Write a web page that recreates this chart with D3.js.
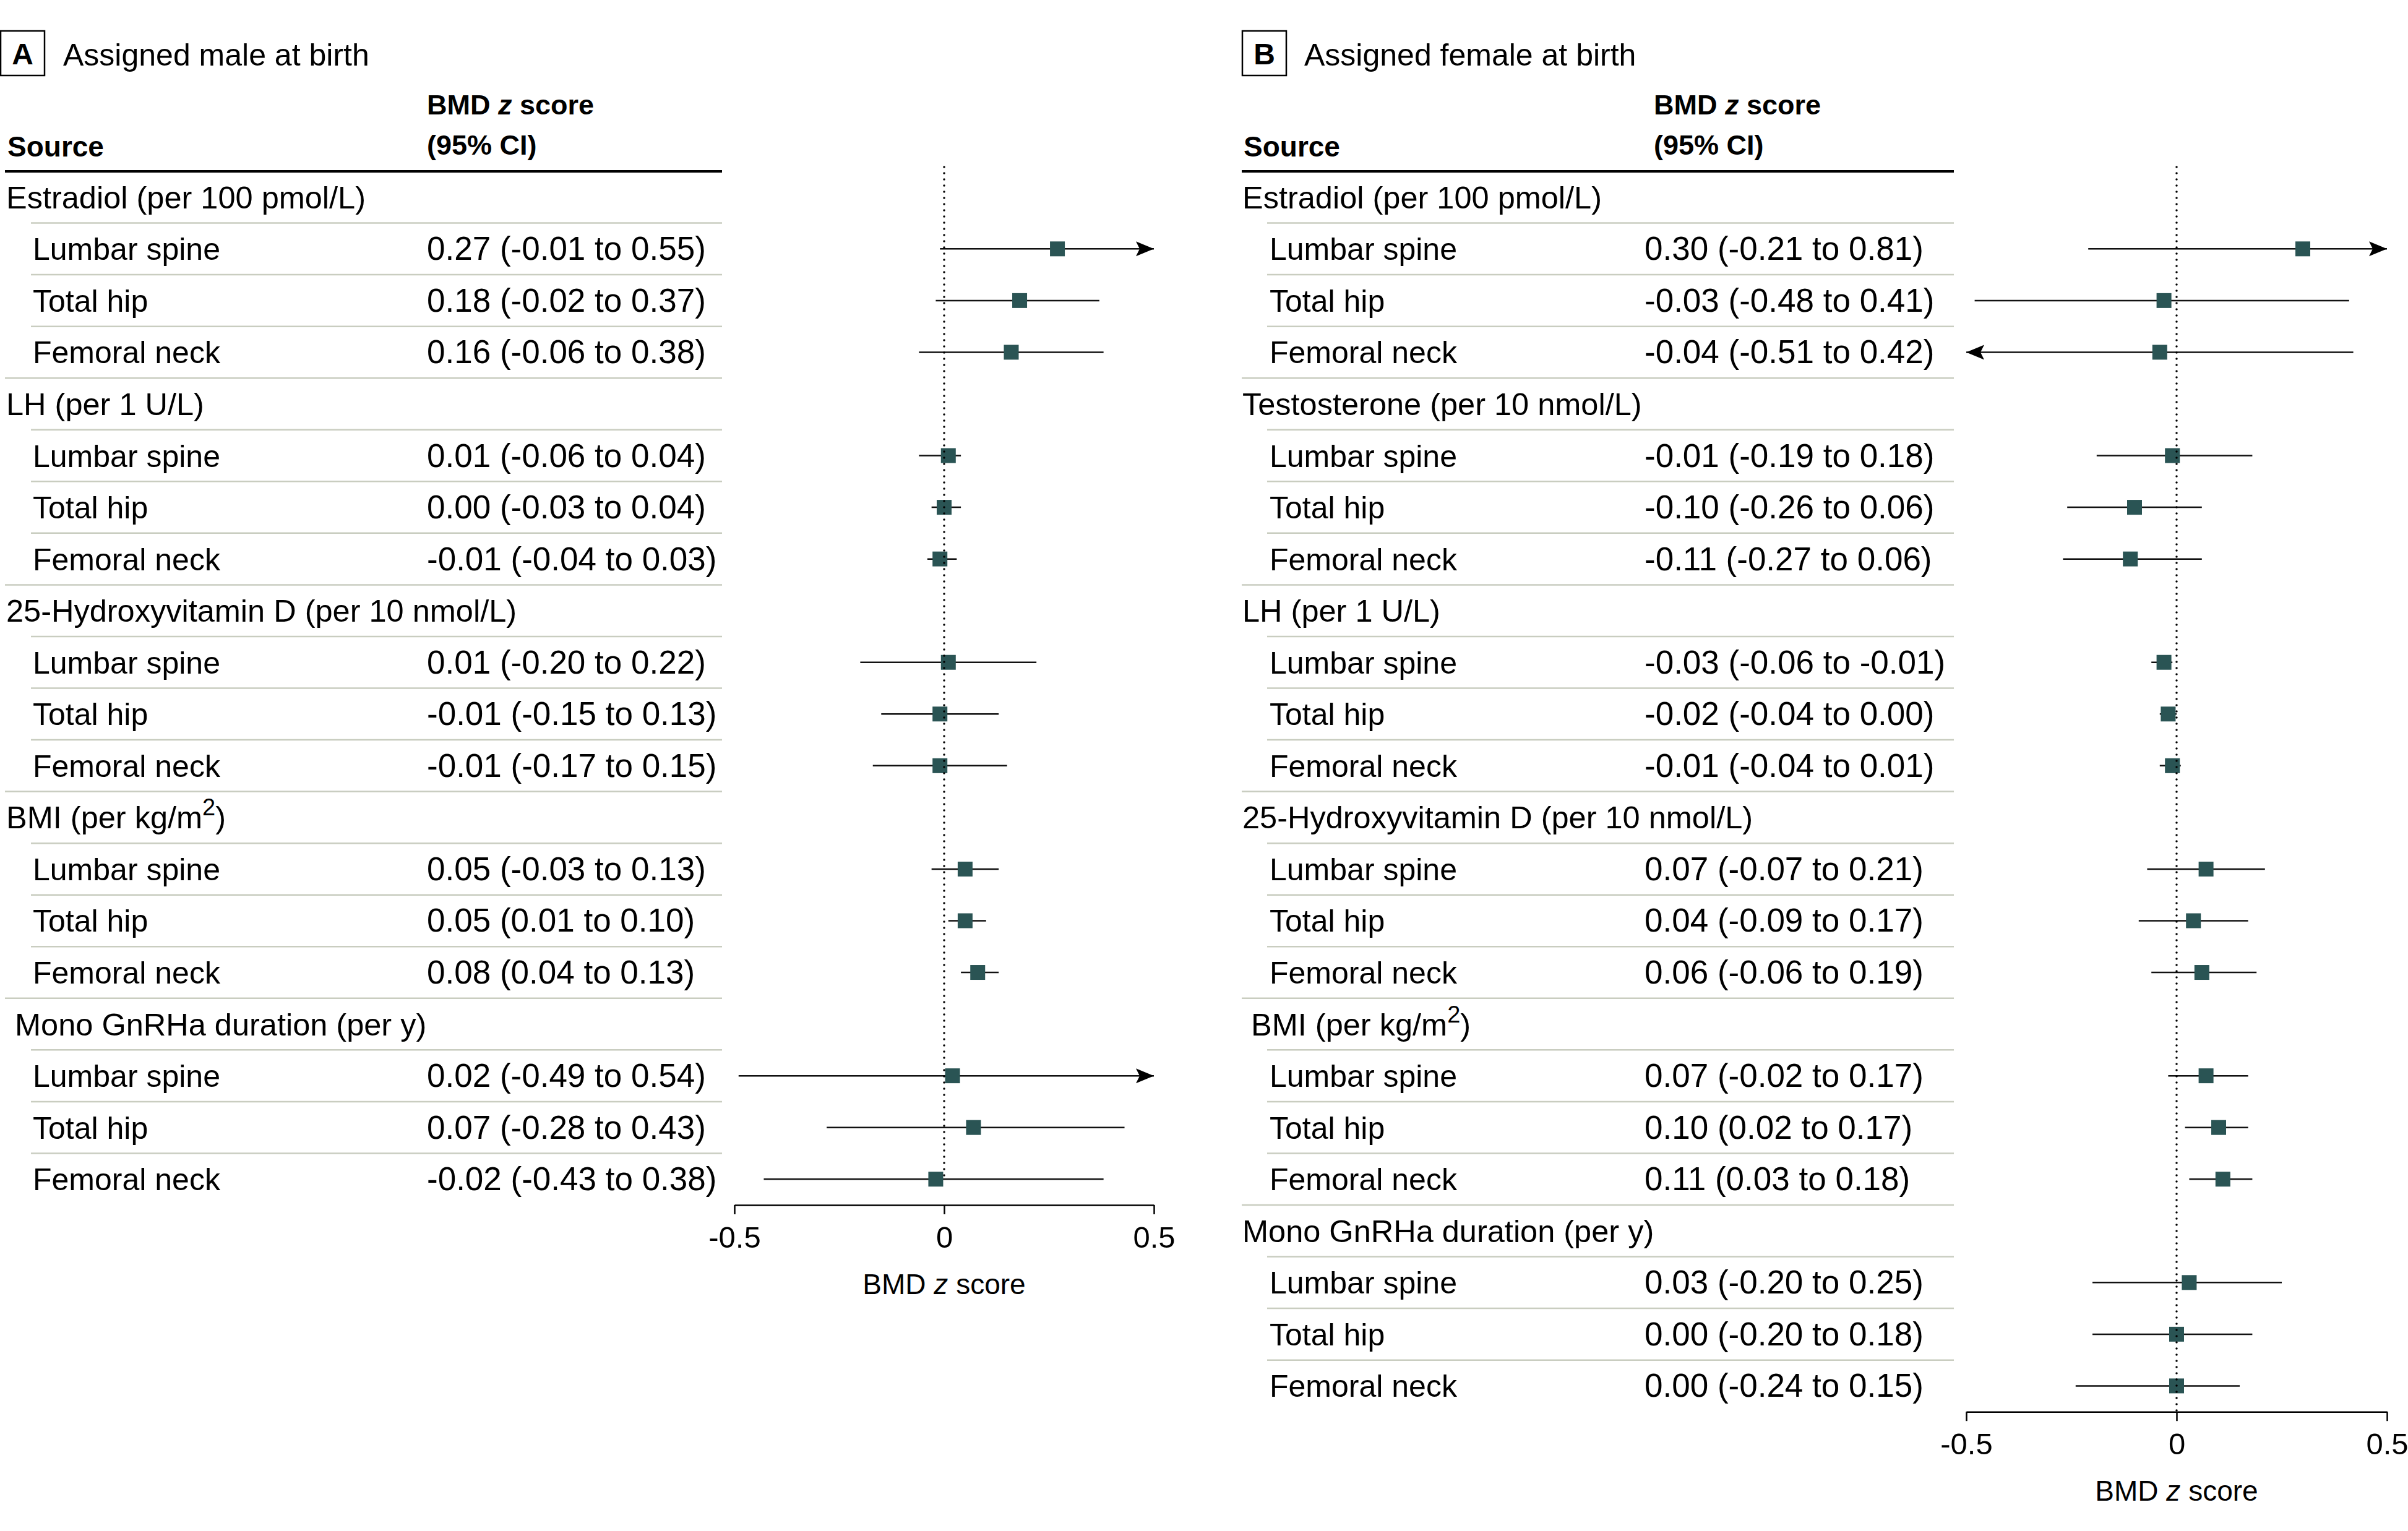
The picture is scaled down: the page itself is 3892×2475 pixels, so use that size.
<!DOCTYPE html>
<html>
<head>
<meta charset="utf-8">
<script src="https://cdn.jsdelivr.net/npm/d3@7"></script>
<style>
  html, body { margin: 0; padding: 0; background: #fff; }
  svg { display: block; font-family: "Liberation Sans", Arial, sans-serif; }
  text { white-space: pre; }
</style>
</head>
<body>
<svg id="chart" width="3892" height="2475" xmlns="http://www.w3.org/2000/svg"></svg>
<script>
// ---------------- DATA ----------------
const sites = ["Lumbar spine", "Total hip", "Femoral neck"];
const ticks = [-0.5, 0, 0.5];

// Panel A: Assigned male at birth
const groupsA = ["Estradiol (per 100 pmol/L)", "LH (per 1 U/L)", "25-Hydroxyvitamin D (per 10 nmol/L)", "BMI (per kg/m²)", " Mono GnRHa duration (per y)"];
const estA  = [0.27, 0.18, 0.16,   0.01, 0.00, -0.01,   0.01, -0.01, -0.01,   0.05, 0.05, 0.08,   0.02, 0.07, -0.02];
const lowA  = [-0.01, -0.02, -0.06, -0.06, -0.03, -0.04, -0.20, -0.15, -0.17, -0.03, 0.01, 0.04, -0.49, -0.28, -0.43];
const highA = [0.55, 0.37, 0.38,   0.04, 0.04, 0.03,   0.22, 0.13, 0.15,   0.13, 0.10, 0.13,   0.54, 0.43, 0.38];

// Panel B: Assigned female at birth
const groupsB = ["Estradiol (per 100 pmol/L)", "Testosterone (per 10 nmol/L)", "LH (per 1 U/L)", "25-Hydroxyvitamin D (per 10 nmol/L)", " BMI (per kg/m²)", "Mono GnRHa duration (per y)"];
const estB  = [0.30, -0.03, -0.04,  -0.01, -0.10, -0.11,  -0.03, -0.02, -0.01,  0.07, 0.04, 0.06,  0.07, 0.10, 0.11,  0.03, 0.00, 0.00];
const lowB  = [-0.21, -0.48, -0.51, -0.19, -0.26, -0.27, -0.06, -0.04, -0.04, -0.07, -0.09, -0.06, -0.02, 0.02, 0.03, -0.20, -0.20, -0.24];
const highB = [0.81, 0.41, 0.42,   0.18, 0.06, 0.06,   -0.01, 0.00, 0.01,   0.21, 0.17, 0.19,   0.17, 0.17, 0.18,   0.25, 0.18, 0.15];

// ---------------- LAYOUT ----------------
const panels = [
  { letter: "A", title: "Assigned male at birth", groups: groupsA, est: estA, low: lowA, high: highA,
    boxX: 1, titleX: 102, sourceX: 12, groupX: 10, subX: 53, valX: 690, headX: 690,
    lineX0: 8, lineX1: 1167, subLineX0: 50, range: [1187, 1865], dotEndOffset: -43 },
  { letter: "B", title: "Assigned female at birth", groups: groupsB, est: estB, low: lowB, high: highB,
    boxX: 2008, titleX: 2108, sourceX: 2010, groupX: 2008, subX: 2052, valX: 2658, headX: 2673,
    lineX0: 2007, lineX1: 3158, subLineX0: 2048, range: [3178, 3858], dotEndOffset: 0 }
];

const ROW_H = 83.55, TOP = 277;
const MARK = "#2a5454", SEP = "#c9cdc0";
const fmt = v => (v < 0 ? "-" : "") + Math.abs(v).toFixed(2);

const svg = d3.select("#chart");
svg.append("rect").attr("width", 3892).attr("height", 2475).attr("fill", "#fff");

function addRich(sel, label) {
  // render ² as a real superscript
  const parts = label.split("²");
  if (parts.length === 1) { sel.text(label); return; }
  sel.append("tspan").text(parts[0]);
  sel.append("tspan").attr("font-size", 38).attr("dy", -21).text("2");
  sel.append("tspan").attr("dy", 21).text(parts[1]);
}

panels.forEach(p => {
  const g = svg.append("g");
  const rows = [];
  p.groups.forEach((gl, gi) => {
    rows.push({ type: "group", label: gl });
    sites.forEach((s, si) => {
      const k = gi * 3 + si;
      rows.push({ type: "sub", label: s, e: p.est[k], l: p.low[k], h: p.high[k] });
    });
  });
  const n = rows.length;
  const y = d3.scaleBand().domain(d3.range(n)).range([TOP, TOP + ROW_H * n]);
  const yc = i => y(i) + y.bandwidth() / 2;
  const x = d3.scaleLinear().domain([-0.5, 0.5]).range(p.range);
  const axisY = TOP + ROW_H * n;

  // panel letter box and title
  g.append("rect").attr("x", p.boxX).attr("y", 50).attr("width", 71).attr("height", 72)
    .attr("fill", "none").attr("stroke", "#000").attr("stroke-width", 2.5);
  g.append("text").attr("x", p.boxX + 35.5).attr("y", 104).attr("text-anchor", "middle")
    .attr("font-size", 48).attr("font-weight", "bold").text(p.letter);
  g.append("text").attr("x", p.titleX).attr("y", 106).attr("font-size", 50).text(p.title);

  // header
  g.append("text").attr("x", p.sourceX).attr("y", 253).attr("font-size", 46).attr("font-weight", "bold").text("Source");
  const h1 = g.append("text").attr("x", p.headX).attr("y", 185).attr("font-size", 45).attr("font-weight", "bold");
  h1.append("tspan").text("BMD ");
  h1.append("tspan").attr("font-style", "italic").text("z");
  h1.append("tspan").text(" score");
  g.append("text").attr("x", p.headX).attr("y", 250).attr("font-size", 45).attr("font-weight", "bold").text("(95% CI)");
  g.append("line").attr("x1", p.lineX0).attr("x2", p.lineX1).attr("y1", TOP).attr("y2", TOP)
    .attr("stroke", "#000").attr("stroke-width", 4);

  // separators
  for (let i = 0; i < n - 1; i++) {
    const sub = rows[i + 1].type === "sub";
    g.append("line").attr("x1", sub ? p.subLineX0 : p.lineX0).attr("x2", p.lineX1)
      .attr("y1", y(i + 1)).attr("y2", y(i + 1)).attr("stroke", SEP).attr("stroke-width", 2.5);
  }

  // row texts
  rows.forEach((r, i) => {
    if (r.type === "group") {
      const t = g.append("text").attr("x", p.groupX).attr("y", yc(i) + 18).attr("font-size", 50.5);
      addRich(t, r.label);
    } else {
      g.append("text").attr("x", p.subX).attr("y", yc(i) + 18).attr("font-size", 50).text(r.label);
      g.append("text").attr("x", p.valX).attr("y", yc(i) + 18).attr("font-size", 53)
        .text(`${fmt(r.e)} (${fmt(r.l)} to ${fmt(r.h)})`);
    }
  });

  const subs = rows.map((r, i) => Object.assign({ i }, r)).filter(r => r.type === "sub");
  const [d0, d1] = x.domain();

  // CI lines
  g.selectAll(".ci").data(subs).join("line")
    .attr("x1", d => x(Math.max(d.l, d0))).attr("x2", d => x(Math.min(d.h, d1)))
    .attr("y1", d => yc(d.i)).attr("y2", d => yc(d.i))
    .attr("stroke", "#111").attr("stroke-width", 2.5);

  // arrows for truncated CIs
  subs.forEach(d => {
    const cy = yc(d.i);
    if (d.h > d1) {
      const tx = x(d1);
      g.append("path").attr("d", `M${tx},${cy} L${tx - 29},${cy - 12} L${tx - 23},${cy} L${tx - 29},${cy + 12} Z`).attr("fill", "#000");
    }
    if (d.l < d0) {
      const tx = x(d0);
      g.append("path").attr("d", `M${tx},${cy} L${tx + 29},${cy - 12} L${tx + 23},${cy} L${tx + 29},${cy + 12} Z`).attr("fill", "#000");
    }
  });

  // point estimates
  g.selectAll(".pt").data(subs).join("rect")
    .attr("x", d => x(d.e) - 12).attr("y", d => yc(d.i) - 12)
    .attr("width", 24).attr("height", 24).attr("fill", MARK);

  // reference line at 0
  g.append("line").attr("x1", x(0)).attr("x2", x(0)).attr("y1", 270).attr("y2", axisY + p.dotEndOffset)
    .attr("stroke", "#000").attr("stroke-width", 3.5).attr("stroke-linecap", "round")
    .attr("stroke-dasharray", "0,10");

  // axis
  const ax = g.append("g").attr("transform", `translate(0,${axisY})`)
    .call(d3.axisBottom(x).tickValues(ticks).tickSize(15).tickSizeOuter(0)
      .tickFormat(d => d === 0 ? "0" : (d < 0 ? "-" : "") + Math.abs(d)));
  ax.select(".domain").attr("stroke", "#000").attr("stroke-width", 2.5);
  ax.selectAll(".tick line").attr("stroke", "#000").attr("stroke-width", 2.5);
  ax.selectAll(".tick text").attr("y", 69).attr("dy", null).attr("fill", "#000")
    .attr("font-size", 49).attr("font-family", "Liberation Sans, Arial, sans-serif");
  const at = g.append("text").attr("x", x(0)).attr("y", axisY + 144).attr("text-anchor", "middle").attr("font-size", 46);
  at.append("tspan").text("BMD ");
  at.append("tspan").attr("font-style", "italic").text("z");
  at.append("tspan").text(" score");
});
</script>
</body>
</html>
